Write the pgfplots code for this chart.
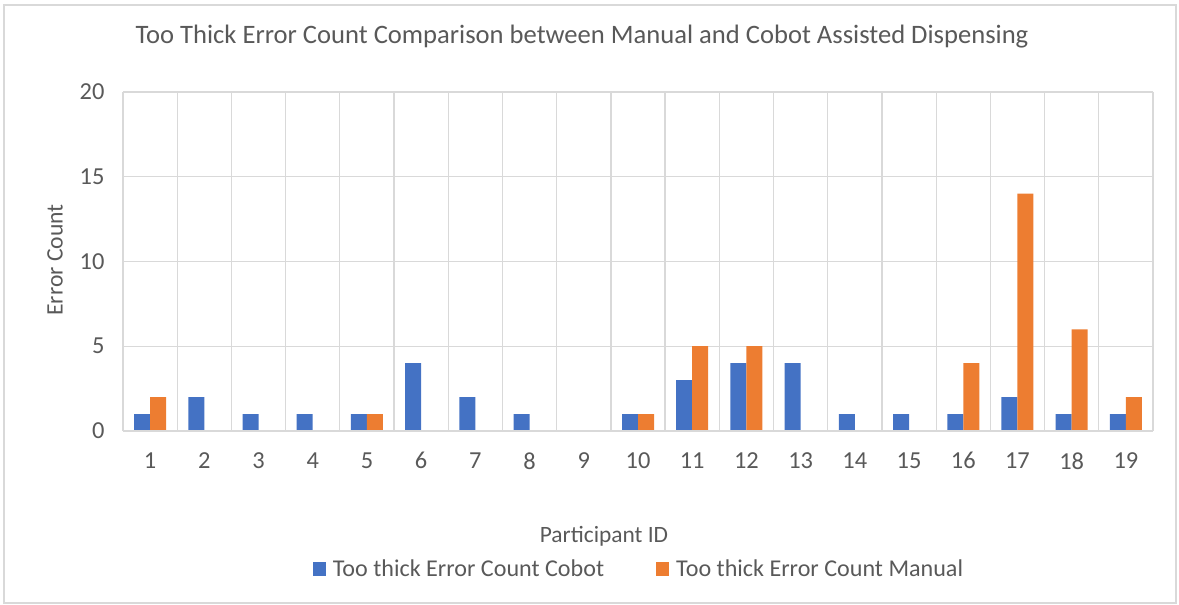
\documentclass[border=0pt]{standalone}
\usepackage{pgfplots}
\pgfplotsset{compat=1.18}
\usepackage{fontspec}
\setmainfont{Carlito}
\definecolor{cblue}{HTML}{4472C4}
\definecolor{corange}{HTML}{ED7D31}
\definecolor{txt}{HTML}{595959}
\definecolor{gridc}{HTML}{D9D9D9}
\begin{document}
\begin{tikzpicture}[x=1bp,y=1bp]
\useasboundingbox (0,0) rectangle (1179,605);
\draw[gridc,line width=1.2bp] (4,2) rectangle (1176,600);
\begin{axis}[
  at={(123bp,174bp)}, anchor=south west,
  scale only axis, width=1030bp, height=339bp,
  xmin=0.5, xmax=19.5, ymin=0, ymax=20,
  ytick={0,5,10,15,20},
  xtick={1,...,19},
  minor xtick={0.5,1.5,...,19.5},
  xminorgrids, ymajorgrids,
  grid style={gridc, line width=1.3bp},
  minor grid style={gridc, line width=1.3bp},
  axis line style={draw=none},
  major tick length=0, minor tick length=0,
  tick label style={font=\fontsize{24.5}{28}\selectfont, text=txt},
  /pgf/number format/assume math mode=true,
  yticklabel style={xshift=-15bp},
  xticklabel style={yshift=-18bp},
  ybar=0pt, bar width=16bp,
  legend columns=2,
  legend style={at={(0.5,-0.407)}, anchor=center, draw=none, fill=none,
    font=\fontsize{24.2}{28}\selectfont, text=txt, inner sep=0pt,
    nodes={inner sep=0pt},
    /tikz/every odd column/.append style={column sep=7bp},
    /tikz/every even column/.append style={column sep=52bp},
    legend cell align=left},
  legend image code/.code={\fill[#1,draw=none] (0bp,-7bp) rectangle (13bp,7bp);},
  clip=false,
]
\addplot[fill=cblue, draw=none] coordinates {(1,1)(2,2)(3,1)(4,1)(5,1)(6,4)(7,2)(8,1)(9,0)(10,1)(11,3)(12,4)(13,4)(14,1)(15,1)(16,1)(17,2)(18,1)(19,1)};
\addplot[fill=corange, draw=none] coordinates {(1,2)(2,0)(3,0)(4,0)(5,1)(6,0)(7,0)(8,0)(9,0)(10,1)(11,5)(12,5)(13,0)(14,0)(15,0)(16,4)(17,14)(18,6)(19,2)};
\legend{Too thick Error Count Cobot, Too thick Error Count Manual}
\draw[gridc, line width=1.3bp] (axis cs:0.5,0) -- (axis cs:19.5,0);
\end{axis}
\node[text=txt, font=\fontsize{26.7}{30}\selectfont] at (582,568) {Too Thick Error Count Comparison between Manual and Cobot Assisted Dispensing};
\node[text=txt, font=\fontsize{23.7}{28}\selectfont, rotate=90] at (55,345) {Error Count};
\node[text=txt, font=\fontsize{23.5}{28}\selectfont] at (604,69) {Participant ID};
\end{tikzpicture}
\end{document}
